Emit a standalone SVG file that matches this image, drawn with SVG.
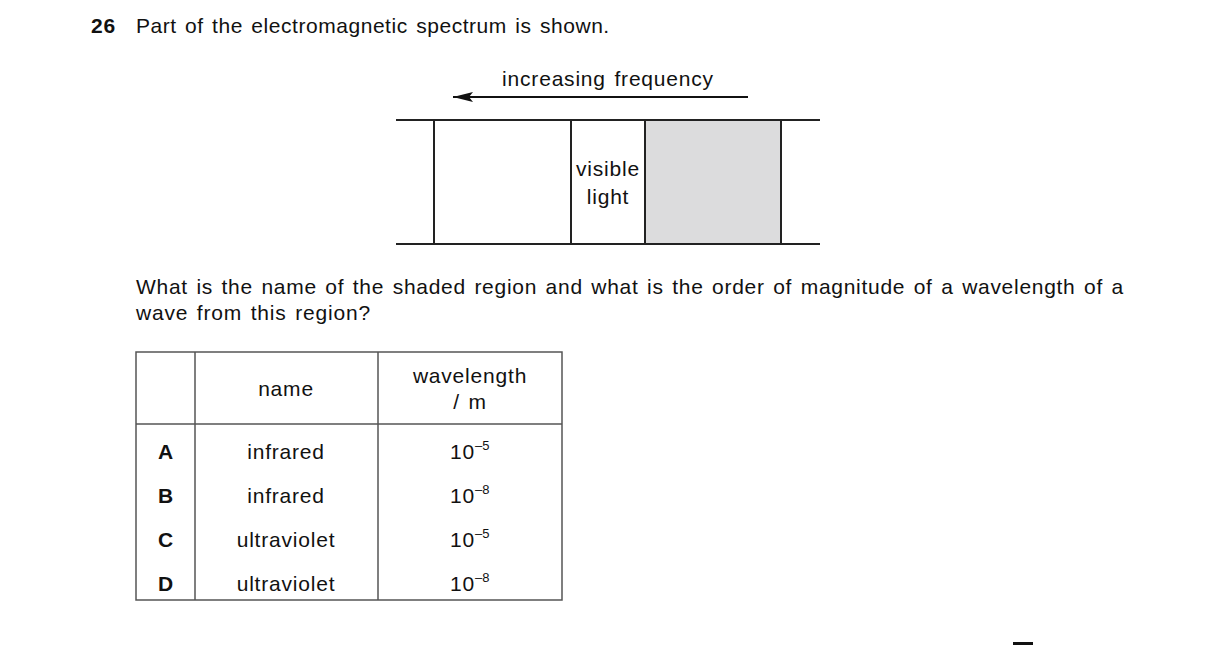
<svg xmlns="http://www.w3.org/2000/svg" width="1216" height="645" viewBox="0 0 1216 645">
<style>
text{font-family:"Liberation Sans",Arial,sans-serif;font-size:21px;letter-spacing:0.8px;word-spacing:2px;fill:#111}
.b{font-weight:bold}
.l{stroke:#222;stroke-width:2;fill:none}
.t{stroke:#555;stroke-width:1.5;fill:none}
.m{text-anchor:middle}
.s{font-size:13px;letter-spacing:0}
</style>
<defs><marker id="ah" markerWidth="20" markerHeight="10" refX="20" refY="5" orient="auto" markerUnits="userSpaceOnUse"><path d="M20,5 L0,0 L4,5 L0,10 Z" fill="#111"/></marker></defs>
<rect width="1216" height="645" fill="#fff"/>
<text x="91" y="33" class="b">26</text>
<text x="136" y="33" textLength="474">Part of the electromagnetic spectrum is shown.</text>
<text x="608" y="86" class="m">increasing frequency</text>
<g id="connectors"><line x1="748" y1="97" x2="453" y2="97" stroke="#111" stroke-width="2" marker-end="url(#ah)"/></g>
<g id="spectrum">
<rect x="645" y="120" width="136" height="124" fill="#dcdcdd"/>
<line class="l" x1="396" y1="120" x2="820" y2="120"/>
<line class="l" x1="396" y1="244" x2="820" y2="244"/>
<line class="l" x1="434" y1="120" x2="434" y2="244"/>
<line class="l" x1="571" y1="120" x2="571" y2="244"/>
<line class="l" x1="645" y1="120" x2="645" y2="244"/>
<line class="l" x1="781" y1="120" x2="781" y2="244"/>
<text x="608" y="176" class="m">visible</text>
<text x="608" y="204" class="m">light</text>
</g>
<text x="136" y="294" textLength="988">What is the name of the shaded region and what is the order of magnitude of a wavelength of a</text>
<text x="136" y="320">wave from this region?</text>
<g id="table">
<rect class="t" x="136" y="352" width="426" height="248"/>
<line class="t" x1="195" y1="352" x2="195" y2="600"/>
<line class="t" x1="378" y1="352" x2="378" y2="600"/>
<line class="t" x1="136" y1="424" x2="562" y2="424"/>
<text x="286" y="396" class="m">name</text>
<text x="470" y="383" class="m">wavelength</text>
<text x="470" y="409" class="m">/ m</text>
<text x="166" y="459" class="m b">A</text><text x="286" y="459" class="m">infrared</text><text x="450" y="459">10<tspan class="s" dy="-9">–5</tspan></text>
<text x="166" y="503" class="m b">B</text><text x="286" y="503" class="m">infrared</text><text x="450" y="503">10<tspan class="s" dy="-9">–8</tspan></text>
<text x="166" y="547" class="m b">C</text><text x="286" y="547" class="m">ultraviolet</text><text x="450" y="547">10<tspan class="s" dy="-9">–5</tspan></text>
<text x="166" y="591" class="m b">D</text><text x="286" y="591" class="m">ultraviolet</text><text x="450" y="591">10<tspan class="s" dy="-9">–8</tspan></text>
</g>
<rect x="1013" y="642" width="20" height="3" fill="#111"/>
</svg>
